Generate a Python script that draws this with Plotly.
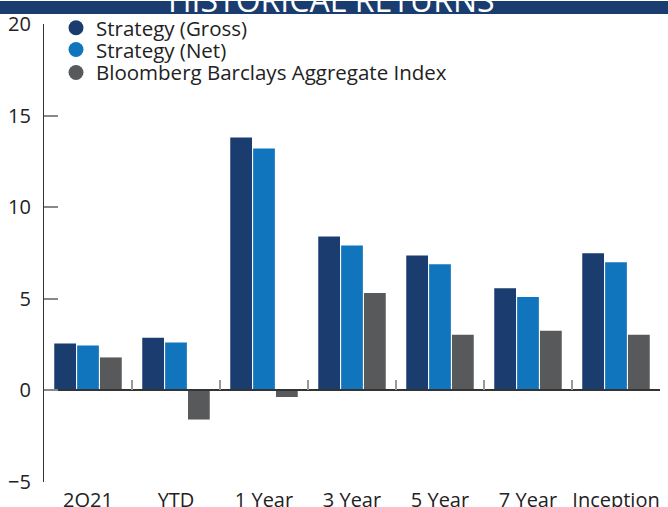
import plotly.graph_objects as go

# data
categories = ['2Q21', 'YTD', '1 Year', '3 Year', '5 Year', '7 Year', 'Inception']
gross = [2.56, 2.88, 13.8, 8.4, 7.37, 5.58, 7.48]
net = [2.45, 2.61, 13.2, 7.91, 6.88, 5.10, 6.99]
index_agg = [1.80, -1.59, -0.36, 5.31, 3.04, 3.26, 3.04]

series_names = ['Strategy (Gross)', 'Strategy (Net)', 'Bloomberg Barclays Aggregate Index']
colors = ['#1a3c6e', '#1075bc', '#58595b']
legend_ids = ['legend', 'legend2', 'legend3']

fig = go.Figure()

for name, vals, c in zip(series_names, [gross, net, index_agg], colors):
    fig.add_trace(go.Bar(x=categories, y=vals, name=name, marker_color=c,
                         marker_line_width=0, showlegend=False))

# circle markers for the legend, one legend per row
for name, c, lg in zip(series_names, colors, legend_ids):
    fig.add_trace(go.Scatter(x=[None], y=[None], mode='markers', name=name,
                             marker=dict(color=c, size=15, symbol='circle'),
                             xaxis='x2', legend=lg))

font_fam = 'Open Sans, sans-serif'
leg_font = dict(size=20.5, color='#222', family=font_fam)


def leg(y):
    return dict(x=0.0195, y=y, xanchor='left', yanchor='top',
                bgcolor='rgba(0,0,0,0)', font=leg_font, itemsizing='trace')


fig.update_layout(
    width=668, height=507,
    margin=dict(l=44, r=8, t=18, b=25),
    plot_bgcolor='white',
    paper_bgcolor='white',
    barmode='group',
    bargap=0.22,
    bargroupgap=0.05,
    font=dict(family=font_fam, color='#222', size=19),
    xaxis=dict(type='category', showline=False, ticks='', showgrid=False,
               zeroline=False, automargin=False, ticklabelstandoff=4,
               tickfont=dict(size=20)),
    xaxis2=dict(overlaying='x', anchor='free', position=0.2, type='linear',
                range=[-0.5, 6.5], tickvals=[0.5, 1.5, 2.5, 3.5, 4.5, 5.5, 6.5],
                showticklabels=False, ticks='inside', ticklen=10, tickwidth=2,
                tickcolor='#999', showline=True, linecolor='#333', linewidth=1.5,
                showgrid=False, zeroline=False, automargin=False),
    yaxis=dict(range=[-5, 20], dtick=5, ticks='inside', ticklen=14, tickwidth=2,
               tickcolor='#888', showline=True, linecolor='#333', linewidth=1.2,
               showgrid=False, zeroline=False, automargin=False,
               ticklabelstandoff=8, tickfont=dict(size=20)),
    legend=leg(1.035),
    legend2=leg(0.9875),
    legend3=leg(0.9375),
)

# header band
fig.add_shape(type='rect', xref='paper', yref='paper',
              x0=-0.1, x1=1.05, y0=1.0216, y1=1.05,
              fillcolor='#1a3c6e', line_width=0, layer='above')
fig.add_annotation(text='HISTORICAL RETURNS', xref='paper', yref='paper',
                   x=0.4675, y=1.054, xanchor='center', yanchor='middle',
                   showarrow=False, font=dict(color='white', size=32, family=font_fam))

# page has a default 8px body margin; drop it so the figure fills the window
fig.write_html("out.html", config={'displayModeBar': False},
               post_script="document.body.style.margin='0';")
